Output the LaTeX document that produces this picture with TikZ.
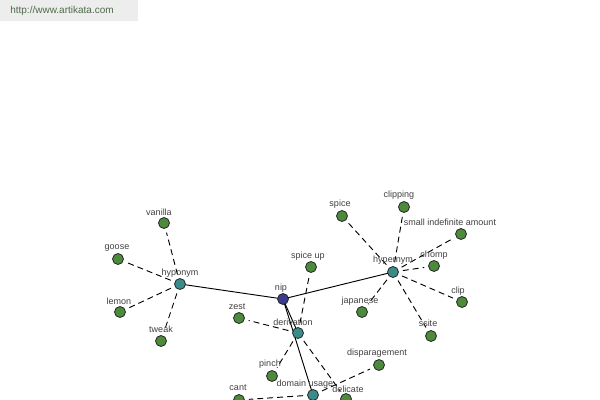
\documentclass[tikz,border=0pt]{standalone}
\usepackage{fontspec}
\setmainfont{Liberation Sans}
\definecolor{gn}{HTML}{4C8A3C}
\definecolor{tl}{HTML}{3A8C8A}
\definecolor{nb}{HTML}{3C3C8E}
\definecolor{wm}{HTML}{4F6B4A}
\pgfdeclarelayer{bg}
\pgfsetlayers{bg,main}
\begin{document}
\begin{tikzpicture}[x=0.75pt,y=-0.75pt,
  v/.style={circle,draw=black!85,line width=0.6pt,minimum size=8.25pt,inner sep=0pt},
  leaf/.style={v,fill=gn},
  rel/.style={v,fill=tl},
  root/.style={v,fill=nb},
  lbl/.style={font=\fontsize{6.75}{8}\selectfont,text=black!75,inner sep=0pt},
  sol/.style={line width=0.7pt,black},
  dsh/.style={line width=0.7pt,black,dash pattern=on 4.5pt off 3pt,shorten >=3pt,shorten <=3pt}]
\useasboundingbox (0,0) rectangle (600,400);
\node[fill=black!7,minimum width=103.5pt,minimum height=15.75pt,inner sep=0pt,anchor=north west] (wmbox) at (0,0) {};
\node[font=\fontsize{7.5}{9}\selectfont,text=wm,inner sep=0pt] (wmtext) at (62,11) {http://www.artikata.com};
% central nodes
\node[root] (nip) at (283,299) {};
\node[rel] (hypo) at (180,284) {};
\node[rel] (hyper) at (393,272) {};
\node[rel] (deriv) at (298,333) {};
\node[rel] (dom) at (313,395) {};
% leaves
\node[leaf] (vanilla) at (164,223) {};
\node[leaf] (goose) at (118,259) {};
\node[leaf] (lemon) at (120,312) {};
\node[leaf] (tweak) at (161,341) {};
\node[leaf] (zest) at (239,318) {};
\node[leaf] (spiceup) at (311,267) {};
\node[leaf] (pinch) at (272,376) {};
\node[leaf] (cant) at (239,400) {};
\node[leaf] (spice) at (342,216) {};
\node[leaf] (clipping) at (404,207) {};
\node[leaf] (small) at (461,234) {};
\node[leaf] (chomp) at (434,266) {};
\node[leaf] (clip) at (462,302) {};
\node[leaf] (japanese) at (362,312) {};
\node[leaf] (ssite) at (431,336) {};
\node[leaf] (disp) at (379,365) {};
\node[leaf] (delicate) at (346,399) {};
% labels
\node[lbl] (nip-t) at (281,288) {nip};
\node[lbl] (hypo-t) at (180,273) {hyponym};
\node[lbl] (hyper-t) at (393,260) {hypernym};
\node[lbl] (deriv-t) at (293,322) {derivation};
\node[lbl] (dom-t) at (305,384) {domain usage};
\node[lbl] (delicate-t) at (348,389) {delicate};
\node[lbl] (vanilla-t) at (159,212) {vanilla};
\node[lbl] (goose-t) at (117,248) {goose};
\node[lbl] (lemon-t) at (119,301) {lemon};
\node[lbl] (tweak-t) at (161,329) {tweak};
\node[lbl] (zest-t) at (237,307) {zest};
\node[lbl] (spiceup-t) at (308,256) {spice up};
\node[lbl] (pinch-t) at (270,364) {pinch};
\node[lbl] (cant-t) at (238,388) {cant};
\node[lbl] (spice-t) at (340,204) {spice};
\node[lbl] (clipping-t) at (399,195) {clipping};
\node[lbl] (small-t) at (450,222) {small indefinite amount};
\node[lbl] (chomp-t) at (434,255) {chomp};
\node[lbl] (clip-t) at (458,291) {clip};
\node[lbl] (japanese-t) at (360,301) {japanese};
\node[lbl] (ssite-t) at (428,323) {ssite};
\node[lbl] (disp-t) at (377,353) {disparagement};
\begin{pgfonlayer}{bg}
\draw[sol] (nip.center) -- (hypo.center);
\draw[sol] (nip.center) -- (hyper.center);
\draw[sol] (nip.center) -- (deriv.center);
\draw[sol] (nip.center) -- (dom.center);
\foreach \l in {vanilla,goose,lemon,tweak}
  \draw[dsh] (hypo) -- (\l);
\foreach \l in {spice,clipping,small,chomp,clip,japanese,ssite}
  \draw[dsh] (hyper) -- (\l);
\foreach \l in {zest,spiceup,pinch,delicate}
  \draw[dsh] (deriv) -- (\l);
\foreach \l in {cant,disp}
  \draw[dsh] (dom) -- (\l);
\end{pgfonlayer}
\end{tikzpicture}
\end{document}
